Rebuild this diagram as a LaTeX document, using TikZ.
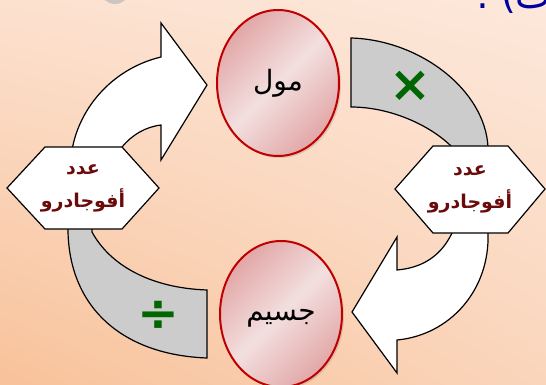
\documentclass[tikz,border=0pt]{standalone}
\usepackage{fontspec}
\usetikzlibrary{shapes.geometric,calc,shadows,shadings}
\TeXXeTstate=1
\newfontfamily\arabicfont[Script=Arabic]{DejaVu Sans}
\newfontfamily\symfont{DejaVu Sans}
\definecolor{bgUL}{HTML}{FCE1CF}
\definecolor{bgUR}{HTML}{FDE8DB}
\definecolor{bgLL}{HTML}{F8C29A}
\definecolor{bgLR}{HTML}{FAD5BB}
\definecolor{ellRed}{HTML}{C00000}
\definecolor{ellLight}{HTML}{F3DFDF}
\definecolor{ellDark}{HTML}{E2A7A7}
\definecolor{bandGray}{HTML}{CCCCCC}
\definecolor{hexText}{HTML}{6B0A0A}
\definecolor{opGreen}{HTML}{006600}
\definecolor{titleBlue}{HTML}{0000A0}
\tikzset{
  arrowshape/.style={draw=black, line width=1.2pt, fill=white, line join=miter},
  bandshape/.style={draw=black, line width=1.2pt, fill=bandGray, line join=miter},
  hexshape/.style={draw=black, line width=1.2pt, fill=white},
  hextext/.style={font=\arabicfont\bfseries\fontsize{19}{33}\selectfont, text=hexText, align=center, inner sep=0pt},
  bubble/.style={ellipse, draw=ellRed, line width=2pt, minimum width=122pt, minimum height=146pt, inner sep=0pt,
    shading=axis, left color=ellDark, right color=ellDark, middle color=ellLight, shading angle=45,
    drop shadow={opacity=0.25, shadow xshift=2pt, shadow yshift=-2pt}},
  bubbletext/.style={font=\arabicfont\fontsize{28}{32}\selectfont, text=black, inner sep=0pt},
  opsign/.style={font=\symfont\bfseries\fontsize{50}{50}\selectfont, text=opGreen, inner sep=0pt}
}
\begin{document}
\begin{tikzpicture}[x=1pt,y=-1pt]
\useasboundingbox (0,0) rectangle (546,385);
\clip (0,0) rectangle (546,385);
% background
\shade[upper left=bgUL, upper right=bgUR, lower left=bgLL, lower right=bgLR] (0,0) rectangle (546,385);
% grey blob at top left (cut off)
\fill[gray!55, opacity=0.7] (115,-9) ellipse [x radius=14, y radius=13];
% cut-off title text at top right
\node[anchor=base east, inner sep=0pt, text=titleBlue, font=\arabicfont\fontsize{38}{38}\selectfont] (title) at (552,9) {\beginR ت) :\endR};

% top-left white curved arrow
\draw[arrowshape] (72,190) -- (72,150) .. controls (80,105) and (115,68) .. (161,57)
  -- (161,23) -- (207,85) -- (161,160) -- (161,125)
  .. controls (145,127) and (132,135) .. (122,147) -- (122,190) -- cycle;
% top-right grey band
\draw[bandshape] (351,38) .. controls (420,40) and (485,90) .. (488,147) -- (488,180) -- (452,180)
  -- (452,147) .. controls (430,125) and (390,107) .. (351,107) -- cycle;
% right-bottom white curved arrow
\draw[arrowshape] (452,195) -- (452,233) .. controls (440,258) and (420,268) .. (397,270)
  -- (397,237) -- (352,312) -- (397,373) -- (397,340)
  .. controls (450,335) and (490,290) .. (488,233) -- (488,195) -- cycle;
% bottom-left grey band
\draw[bandshape] (68,195) -- (68,232) .. controls (70,310) and (125,355) .. (207,358)
  -- (207,290) .. controls (150,288) and (110,265) .. (92,232) -- (92,195) -- cycle;

% hexagons
\coordinate (hL) at (83,188);
\coordinate (hR) at (470,189);
\draw[hexshape] ($(hL)+(-76,0)$) -- ($(hL)+(-38,-41)$) -- ($(hL)+(39,-41)$) -- ($(hL)+(76,0)$)
  -- ($(hL)+(39,41)$) -- ($(hL)+(-38,41)$) -- cycle;
\draw[hexshape] ($(hR)+(-75,0)$) -- ($(hR)+(-37,-43)$) -- ($(hR)+(38,-43)$) -- ($(hR)+(75,0)$)
  -- ($(hR)+(38,44)$) -- ($(hR)+(-37,44)$) -- cycle;
\node[hextext] (tL) at (hL) {\beginR عدد\endR\\\beginR أفوجادرو\endR};
\node[hextext] (tR) at (hR) {\beginR عدد\endR\\\beginR أفوجادرو\endR};

% operation signs
\node[opsign] (times) at (410,86) {×};
\node[opsign] (div) at (158,316) {÷};

% ellipses
\node[bubble] (mol) at (278,83) {};
\node[bubbletext] (molT) at (278,83) {\beginR مول\endR};
\node[bubble] (par) at (281,314) {};
\node[bubbletext] (parT) at (281,318) {\beginR جسيم\endR};
\end{tikzpicture}
\end{document}
